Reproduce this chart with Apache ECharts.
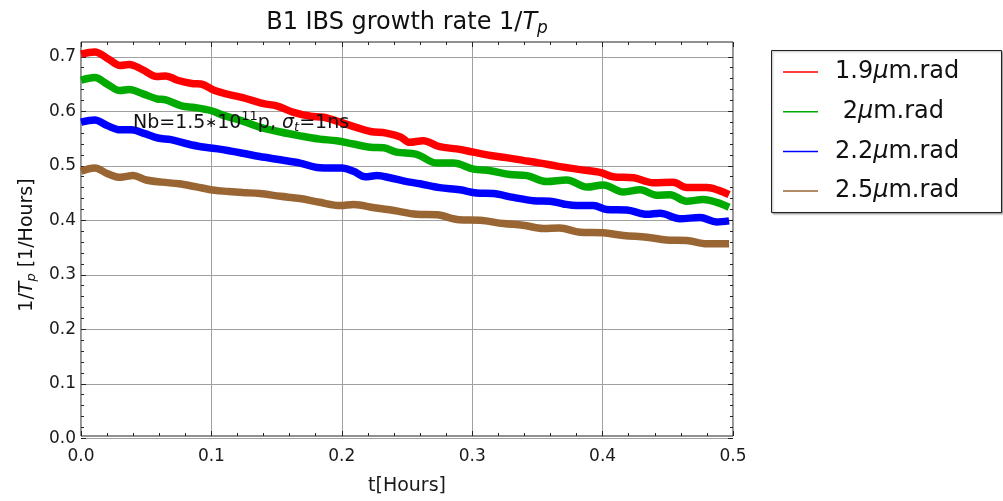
<!DOCTYPE html>
<html><head><meta charset="utf-8">
<script src="https://cdn.jsdelivr.net/npm/echarts@6/dist/echarts.min.js"></script>
<style>html,body{margin:0;padding:0;background:#fff}#c{width:1003px;height:501px}</style>
</head><body><div id="c"></div>
<script>
const FONT = '"DejaVu Sans", "Liberation Sans", sans-serif';

const seriesNames = ['1.9μm.rad', ' 2μm.rad', '2.2μm.rad', '2.5μm.rad'];
const seriesColors = ['#ff0000', '#00aa00', '#0000ff', '#996633'];

const tRed = [0, 0.0105, 0.021, 0.030, 0.037, 0.0475, 0.058, 0.065, 0.074, 0.085, 0.092, 0.1025, 0.113, 0.124, 0.140, 0.150, 0.163, 0.176, 0.186, 0.199, 0.209, 0.222, 0.234, 0.245, 0.252, 0.2625, 0.275, 0.288, 0.301, 0.314, 0.326, 0.339, 0.352, 0.366, 0.383, 0.398, 0.408, 0.424, 0.439, 0.454, 0.4645, 0.48, 0.489, 0.497];
const vRed = [0.705, 0.709, 0.696, 0.684, 0.686, 0.676, 0.664, 0.665, 0.657, 0.651, 0.650, 0.638, 0.631, 0.625, 0.614, 0.610, 0.598, 0.591, 0.589, 0.580, 0.572, 0.563, 0.560, 0.553, 0.543, 0.546, 0.535, 0.531, 0.525, 0.519, 0.515, 0.510, 0.505, 0.499, 0.493, 0.488, 0.480, 0.478, 0.469, 0.470, 0.460, 0.460, 0.455, 0.447];

const tGreen = [0, 0.0105, 0.020, 0.030, 0.037, 0.0475, 0.058, 0.065, 0.077, 0.087, 0.100, 0.110, 0.124, 0.137, 0.153, 0.168, 0.183, 0.196, 0.209, 0.222, 0.232, 0.242, 0.2574, 0.273, 0.2855, 0.301, 0.314, 0.329, 0.342, 0.357, 0.3725, 0.388, 0.4005, 0.416, 0.4287, 0.4415, 0.4517, 0.4645, 0.477, 0.4875, 0.497];
const vGreen = [0.657, 0.662, 0.650, 0.638, 0.640, 0.632, 0.623, 0.621, 0.610, 0.607, 0.601, 0.592, 0.582, 0.571, 0.562, 0.555, 0.549, 0.546, 0.540, 0.534, 0.533, 0.525, 0.521, 0.505, 0.505, 0.494, 0.491, 0.484, 0.482, 0.471, 0.474, 0.461, 0.465, 0.452, 0.456, 0.446, 0.447, 0.435, 0.438, 0.433, 0.424];

const tBlue = [0, 0.0105, 0.020, 0.030, 0.0386, 0.049, 0.059, 0.069, 0.082, 0.092, 0.105, 0.115, 0.124, 0.137, 0.153, 0.168, 0.181, 0.1935, 0.200, 0.209, 0.218, 0.227, 0.237, 0.248, 0.26, 0.275, 0.2906, 0.3034, 0.316, 0.3315, 0.347, 0.3597, 0.370, 0.380, 0.393, 0.403, 0.4185, 0.434, 0.444, 0.4593, 0.4747, 0.4875, 0.497];
const vBlue = [0.580, 0.584, 0.574, 0.566, 0.566, 0.559, 0.551, 0.548, 0.540, 0.535, 0.531, 0.527, 0.523, 0.517, 0.511, 0.505, 0.497, 0.496, 0.496, 0.490, 0.480, 0.482, 0.478, 0.472, 0.467, 0.460, 0.456, 0.450, 0.449, 0.442, 0.436, 0.435, 0.430, 0.427, 0.427, 0.420, 0.419, 0.411, 0.413, 0.403, 0.405, 0.397, 0.399];

const tBrown = [0, 0.0105, 0.020, 0.030, 0.040, 0.050, 0.062, 0.075, 0.087, 0.1025, 0.113, 0.124, 0.137, 0.153, 0.168, 0.183, 0.199, 0.209, 0.225, 0.240, 0.2574, 0.273, 0.290, 0.306, 0.324, 0.339, 0.3545, 0.367, 0.3827, 0.4005, 0.416, 0.434, 0.449, 0.4645, 0.48, 0.497];
const vBrown = [0.490, 0.496, 0.486, 0.479, 0.482, 0.474, 0.470, 0.467, 0.462, 0.455, 0.453, 0.451, 0.449, 0.444, 0.440, 0.433, 0.427, 0.429, 0.423, 0.418, 0.411, 0.410, 0.401, 0.400, 0.394, 0.391, 0.385, 0.386, 0.378, 0.377, 0.372, 0.369, 0.364, 0.363, 0.357, 0.357];

const xTickLabels = ['0.0', '0.1', '0.2', '0.3', '0.4', '0.5'];
const yTickLabels = ['0.0', '0.1', '0.2', '0.3', '0.4', '0.5', '0.6', '0.7'];

const titleText = 'B1 IBS growth rate 1/{i|T}{sub|p}';
const yNameText = '1/{i|T}{sub|p} [1/Hours]';
const xNameText = 't[Hours]';
const noteText = 'Nb=1.5{ast|∗}10{sup|11}p, {i|σ}{sub|t}=1ns';

const allT = [tRed, tGreen, tBlue, tBrown];
const allV = [vRed, vGreen, vBlue, vBrown];

const chart = echarts.init(document.getElementById('c'), null, {renderer: 'canvas'});

const tickStyle = {show: true, inside: true, length: 5, lineStyle: {color: '#222', width: 1}};
const minorStyle = {show: true, splitNumber: 5, length: 3, lineStyle: {color: '#222', width: 1}};
const gridLine = {show: true, lineStyle: {color: '#a0a0a0', width: 1}};

const series = seriesNames.map((name, k) => ({
  name: name,
  type: 'line',
  xAxisIndex: 0,
  yAxisIndex: 0,
  data: allT[k].map((t, i) => [t, allV[k][i]]),
  showSymbol: false,
  symbol: 'none',
  smooth: 0.35,
  clip: false,
  lineStyle: {width: 7.5, color: seriesColors[k]},
  itemStyle: {color: seriesColors[k]},
  z: 3 + k
}));

const option = {
  animation: false,
  backgroundColor: '#fff',
  color: seriesColors,
  textStyle: {fontFamily: FONT},
  grid: [
    {left: 81, top: 56.8, width: 652, height: 381.5, show: false},
    {left: 81, top: 42, width: 652, height: 404, show: true, borderColor: '#222', borderWidth: 1, backgroundColor: 'transparent'}
  ],
  xAxis: [
    {type: 'value', gridIndex: 0, min: 0, max: 0.5, show: false},
    {type: 'value', gridIndex: 1, min: 0, max: 0.5, interval: 0.1, position: 'bottom',
     axisLine: {show: false}, axisTick: tickStyle, minorTick: minorStyle, splitLine: gridLine,
     axisLabel: {margin: 12, fontSize: 17, color: '#1a1a1a', fontFamily: FONT,
       formatter: (v) => xTickLabels[Math.round(v * 10)]},
     name: xNameText, nameLocation: 'middle', nameGap: 41,
     nameTextStyle: {fontSize: 19, color: '#1a1a1a', fontFamily: FONT}},
    {type: 'value', gridIndex: 1, min: 0, max: 0.5, interval: 0.1, position: 'top',
     axisLine: {show: false}, axisTick: tickStyle, minorTick: minorStyle, splitLine: {show: false},
     axisLabel: {show: false}}
  ],
  yAxis: [
    {type: 'value', gridIndex: 0, min: 0, max: 0.7, interval: 0.1, position: 'left',
     axisLine: {show: false}, axisTick: tickStyle, minorTick: minorStyle, splitLine: gridLine,
     axisLabel: {margin: 5, fontSize: 17, color: '#1a1a1a', fontFamily: FONT,
       formatter: (v) => yTickLabels[Math.round(v * 10)]}},
    {type: 'value', gridIndex: 0, min: 0, max: 0.7, interval: 0.1, position: 'right',
     axisLine: {show: false}, axisTick: tickStyle, minorTick: minorStyle, splitLine: {show: false},
     axisLabel: {show: false}},
    {type: 'value', gridIndex: 1, min: 0, max: 1, show: false}
  ],
  legend: {
    data: seriesNames,
    orient: 'vertical',
    left: 783, top: 59,
    itemWidth: 35, itemHeight: 1.5, itemGap: 13.7,
    icon: 'rect',
    padding: 0,
    selectedMode: false,
    formatter: (n) => n.replace('μ', '{i|μ}'),
    textStyle: {fontFamily: FONT, fontSize: 24, color: '#111', lineHeight: 26, padding: [0, 0, 0, 12],
      rich: {i: {fontFamily: FONT, fontSize: 24, fontStyle: 'italic', color: '#111', lineHeight: 26}}}
  },
  graphic: [
    {type: 'rect', z: 1, shape: {x: 771.5, y: 50.5, width: 230, height: 162},
     style: {fill: '#fff', stroke: '#222', lineWidth: 1, shadowBlur: 2, shadowOffsetX: 1, shadowOffsetY: 1, shadowColor: 'rgba(0,0,0,0.35)'}},
    {type: 'text', z: 100, x: 407, y: 23,
     style: {text: titleText, align: 'center', verticalAlign: 'middle', fill: '#111',
       fontFamily: FONT, fontSize: 24,
       rich: {i: {fontFamily: FONT, fontSize: 24, fontStyle: 'italic', fill: '#111'},
              sub: {fontFamily: FONT, fontSize: 17, fontStyle: 'italic', fill: '#111', padding: [12, 0, 0, 0]}}}},
    {type: 'text', z: 100, x: 27, y: 245, rotation: Math.PI / 2,
     style: {text: yNameText, align: 'center', verticalAlign: 'middle', fill: '#111',
       fontFamily: FONT, fontSize: 19,
       rich: {i: {fontFamily: FONT, fontSize: 19, fontStyle: 'italic', fill: '#111'},
              sub: {fontFamily: FONT, fontSize: 13, fontStyle: 'italic', fill: '#111', padding: [10, 0, 0, 0]}}}},
    {type: 'text', z: 100, x: 133, y: 123,
     style: {text: noteText, align: 'left', verticalAlign: 'middle', fill: '#111',
       fontFamily: FONT, fontSize: 19,
       rich: {i: {fontFamily: FONT, fontSize: 19, fontStyle: 'italic', fill: '#111'},
              ast: {fontFamily: FONT, fontSize: 14, fill: '#111'},
              sup: {fontFamily: FONT, fontSize: 13, fill: '#111', padding: [0, 0, 12, 0]},
              sub: {fontFamily: FONT, fontSize: 13, fontStyle: 'italic', fill: '#111', padding: [10, 0, 0, 0]}}}}
  ],
  series: series
};
chart.setOption(option);
</script></body></html>
